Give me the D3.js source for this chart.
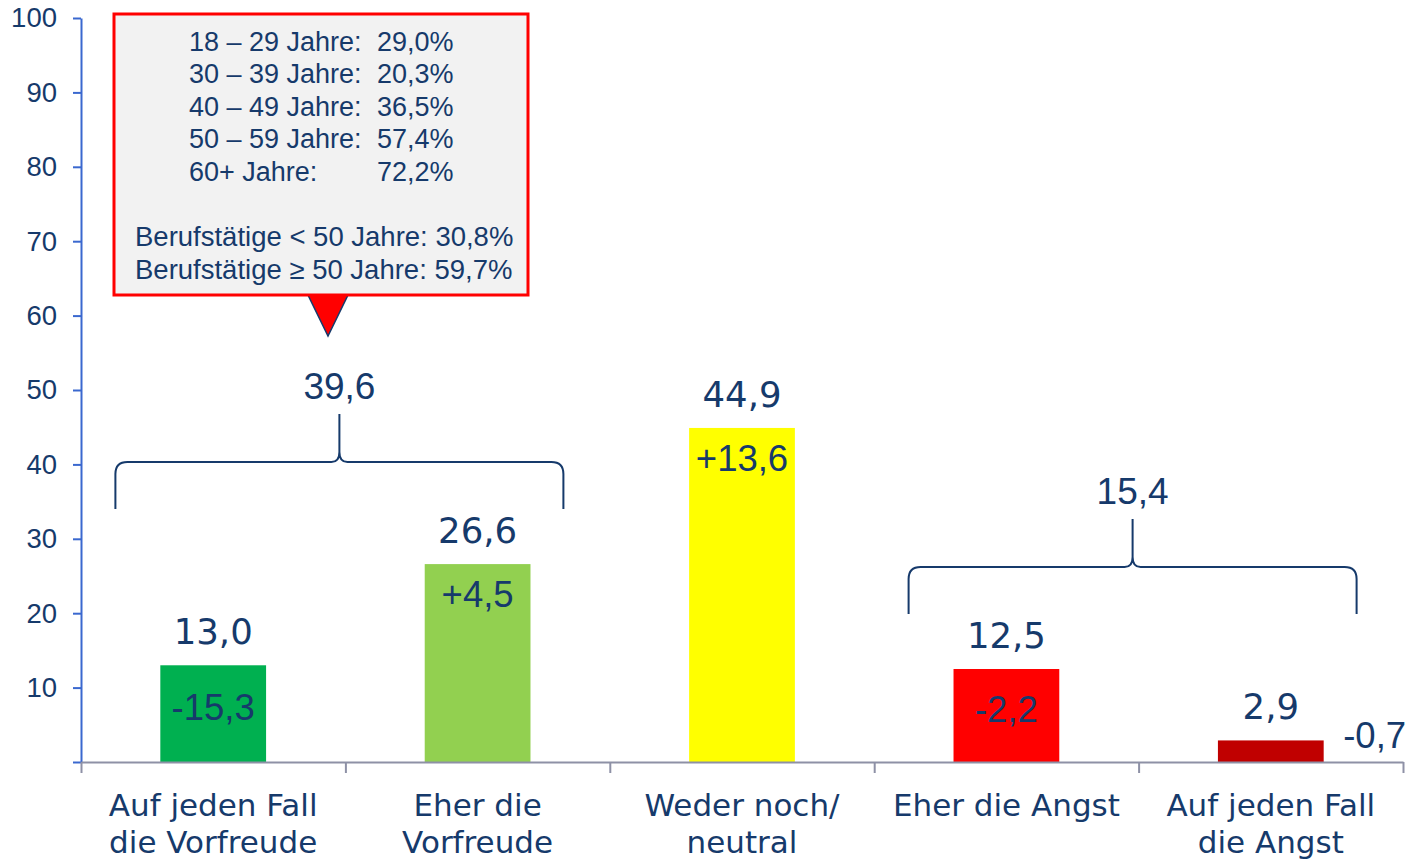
<!DOCTYPE html>
<html>
<head>
<meta charset="utf-8">
<script src="https://cdn.jsdelivr.net/npm/d3@7"></script>
<style>
  body { margin: 0; background: white; }
  svg { display: block; }
</style>
</head>
<body>
<svg id="chart"></svg>
<script>
// chart values
const categories = [
  ["Auf jeden Fall", "die Vorfreude"],
  ["Eher die", "Vorfreude"],
  ["Weder noch/", "neutral"],
  ["Eher die Angst"],
  ["Auf jeden Fall", "die Angst"]
]
const shares = [13.0, 26.6, 44.9, 12.5, 2.9]
const changes = [-15.3, 4.5, 13.6, -2.2, -0.7]
const barColors = ["#00B050", "#92D050", "#FFFF00", "#FF0000", "#C00000"]

const groupFirst = [0, 3]
const groupLast = [1, 4]
const groupTotals = [39.6, 15.4]

const ageGroups = ["18 – 29 Jahre:", "30 – 39 Jahre:", "40 – 49 Jahre:", "50 – 59 Jahre:", "60+ Jahre:"]
const agePct = [29.0, 20.3, 36.5, 57.4, 72.2]
const workerGroups = ["Berufstätige < 50 Jahre:", "Berufstätige ≥ 50 Jahre:"]
const workerPct = [30.8, 59.7]

const yTicks = [0, 10, 20, 30, 40, 50, 60, 70, 80, 90, 100]

// layout
const width = 1409, height = 859
const marginLeft = 81, marginRight = 6, marginTop = 18, marginBottom = 97
const navy = "#163A6B"
const verdana = "'DejaVu Sans', Verdana, sans-serif"
const arial = "'Liberation Sans', Arial, sans-serif"

const de = d3.formatLocale({decimal: ",", thousands: ".", grouping: [3], currency: ["", "€"], minus: "-"})
const fmt = de.format(".1f")
const fmtSigned = de.format("+.1f")
const fmtPct = v => fmt(v) + "%"

const svg = d3.select("#chart").attr("width", width).attr("height", height)

const x = d3.scaleBand()
  .domain(d3.range(categories.length))
  .range([marginLeft, width - marginRight])
const y = d3.scaleLinear().domain([0, 100]).range([height - marginBottom, marginTop])

const barWidth = x.bandwidth() * 0.4
const barX = i => x(i) + (x.bandwidth() - barWidth) / 2
const barCenter = i => x(i) + x.bandwidth() / 2

// bars
svg.append("g")
  .selectAll("rect")
  .data(shares)
  .join("rect")
  .attr("x", (d, i) => barX(i))
  .attr("y", d => y(d))
  .attr("width", barWidth)
  .attr("height", d => y(0) - y(d))
  .attr("fill", (d, i) => barColors[i])

// value labels above bars
svg.append("g")
  .selectAll("text")
  .data(shares)
  .join("text")
  .attr("x", (d, i) => barCenter(i))
  .attr("y", d => y(d) - 21)
  .attr("text-anchor", "middle")
  .attr("font-family", verdana)
  .attr("font-size", 35.5)
  .attr("fill", navy)
  .text(d => fmt(d))

// change labels: inside tall bars, centred in short ones, beside very small ones
function changePos(i){
  const top = y(shares[i]), h = y(0) - top
  if (h > 120) return [barCenter(i), top + 43, "middle"]
  if (h > 40) return [barCenter(i), top + h / 2 + 6, "middle"]
  return [barX(i) + barWidth + 51, top + h / 2 - 3, "middle"]
}

svg.append("g")
  .selectAll("text")
  .data(changes)
  .join("text")
  .attr("x", (d, i) => changePos(i)[0])
  .attr("y", (d, i) => changePos(i)[1])
  .attr("text-anchor", (d, i) => changePos(i)[2])
  .attr("font-family", arial)
  .attr("font-size", 36.5)
  .attr("fill", navy)
  .text(d => fmtSigned(d))

// y axis
const yAxis = svg.append("g")
  .attr("transform", `translate(${marginLeft},0)`)
  .call(d3.axisLeft(y).tickValues(yTicks).tickSize(8).tickSizeOuter(0).tickPadding(16)
    .tickFormat(d => d === 0 ? "" : d))
yAxis.select(".domain").attr("stroke", "#3A68CF").attr("stroke-width", 2)
yAxis.selectAll(".tick line").attr("stroke", "#3A68CF").attr("stroke-width", 2)
yAxis.selectAll(".tick text")
  .attr("font-family", arial)
  .attr("font-size", 27.5)
  .attr("fill", navy)

// x axis: category separators
const xEdges = d3.scaleLinear().domain([0, categories.length]).range(x.range())
const xAxis = svg.append("g")
  .attr("transform", `translate(0,${y(0)})`)
  .call(d3.axisBottom(xEdges).ticks(categories.length).tickSize(11).tickSizeOuter(0).tickFormat(""))
xAxis.select(".domain").attr("stroke", "#8E91A6").attr("stroke-width", 2)
xAxis.selectAll(".tick line").attr("stroke", "#8E91A6").attr("stroke-width", 2)

// category labels
const catLabels = svg.append("g")
  .selectAll("text")
  .data(categories)
  .join("text")
  .attr("x", (d, i) => barCenter(i))
  .attr("y", y(0) + 54)
  .attr("text-anchor", "middle")
  .attr("font-family", verdana)
  .attr("font-size", 31)
  .attr("fill", navy)

catLabels.selectAll("tspan")
  .data(d => d)
  .join("tspan")
  .attr("x", function(){ return d3.select(this.parentNode).attr("x") })
  .attr("dy", (d, j) => j === 0 ? 0 : 37)
  .text(d => d)

// curly braces over grouped bars
function bracePath(x0, x1, yBottom){
  const cx = (x0 + x1) / 2
  const yTop = yBottom - 47
  const yCusp = yTop - 48
  const r = 12, c = 8
  return `M${x0},${yBottom} L${x0},${yTop + r} Q${x0},${yTop} ${x0 + r},${yTop}` +
    ` L${cx - c},${yTop} Q${cx},${yTop} ${cx},${yTop - 10} L${cx},${yCusp}` +
    ` M${cx},${yTop - 10} Q${cx},${yTop} ${cx + c},${yTop}` +
    ` L${x1 - r},${yTop} Q${x1},${yTop} ${x1},${yTop + r} L${x1},${yBottom}`
}

const braces = groupTotals.map((total, g) => {
  const idx = d3.range(groupFirst[g], groupLast[g] + 1)
  const cx = d3.mean(idx, barCenter) - 6
  const yBottom = y(d3.max(idx, i => shares[i])) - 55
  return {total, cx, x0: cx - 224, x1: cx + 224, yBottom}
})

svg.append("g")
  .selectAll("path")
  .data(braces)
  .join("path")
  .attr("d", b => bracePath(b.x0, b.x1, b.yBottom))
  .attr("fill", "none")
  .attr("stroke", navy)
  .attr("stroke-width", 2)

svg.append("g")
  .selectAll("text")
  .data(braces)
  .join("text")
  .attr("x", b => b.cx)
  .attr("y", b => b.yBottom - 110)
  .attr("text-anchor", "middle")
  .attr("font-family", arial)
  .attr("font-size", 37)
  .attr("fill", navy)
  .text(b => fmt(b.total))

// callout box for the first group
const callout = svg.append("g")
const b0 = braces[0]
const boxLeft = 114, boxTop = 14, boxW = 414, boxH = 281
const tipX = boxLeft + 214
const tipY = b0.yBottom - 173

callout.append("path")
  .attr("d", `M${tipX - 21},${boxTop + boxH - 2} L${tipX + 21},${boxTop + boxH - 2} L${tipX},${tipY} Z`)
  .attr("fill", "#FF0000")
  .attr("stroke", navy)
  .attr("stroke-width", 1.5)
  .attr("stroke-linejoin", "miter")

callout.append("rect")
  .attr("x", boxLeft)
  .attr("y", boxTop)
  .attr("width", boxW)
  .attr("height", boxH)
  .attr("fill", "#F2F2F2")
  .attr("stroke", "#FF0000")
  .attr("stroke-width", 3)

const lineH = 32.4
const ageRows = callout.append("g")
  .attr("font-family", arial)
  .attr("font-size", 27)
  .attr("fill", navy)

ageRows.selectAll("text.age")
  .data(ageGroups)
  .join("text")
  .attr("class", "age")
  .attr("x", boxLeft + 75)
  .attr("y", (d, i) => boxTop + 37 + i * lineH)
  .text(d => d)

ageRows.selectAll("text.pct")
  .data(agePct)
  .join("text")
  .attr("class", "pct")
  .attr("x", boxLeft + 263)
  .attr("y", (d, i) => boxTop + 37 + i * lineH)
  .text(d => fmtPct(d))

ageRows.selectAll("text.work")
  .data(workerGroups)
  .join("text")
  .attr("class", "work")
  .attr("x", boxLeft + 21)
  .attr("y", (d, i) => boxTop + 37 + (ageGroups.length + 1 + i) * lineH + 1)
  .attr("font-size", 27.5)
  .text((d, i) => d + " " + fmtPct(workerPct[i]))
</script>
</body>
</html>
